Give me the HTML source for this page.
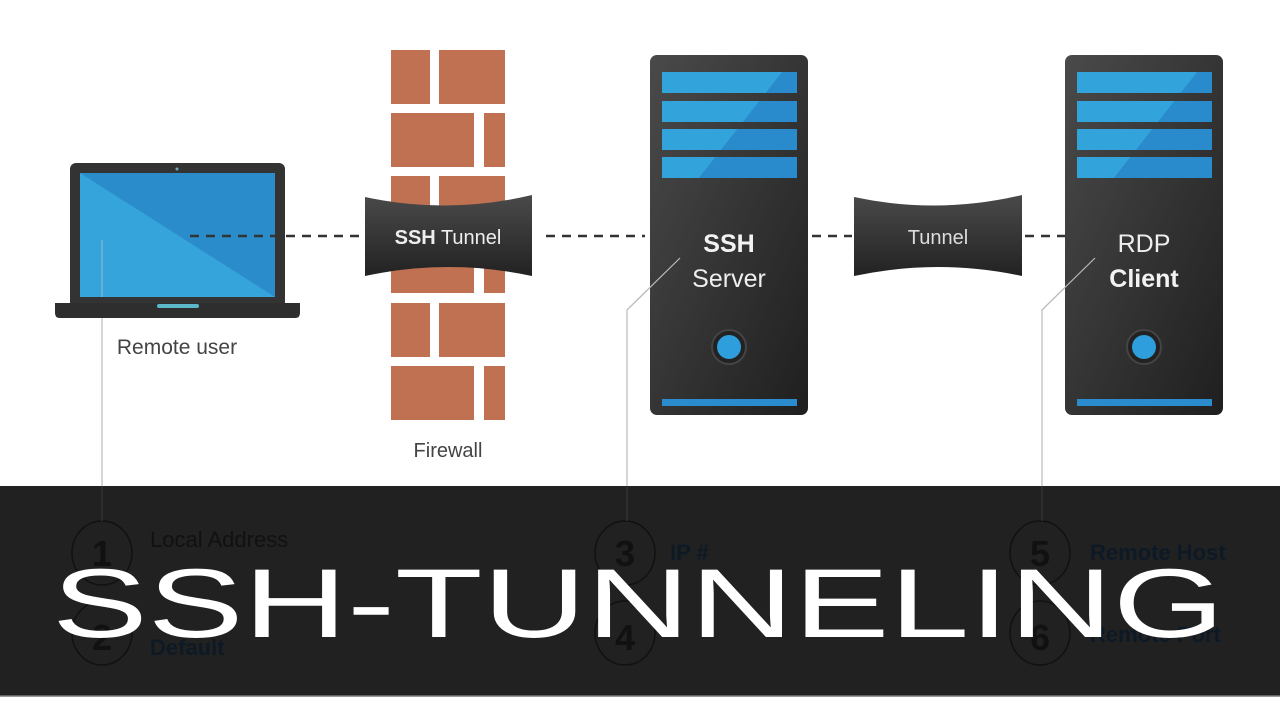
<!DOCTYPE html>
<html><head><meta charset="utf-8"><style>
html,body{margin:0;padding:0;background:#fff;width:1280px;height:720px;overflow:hidden}
svg{display:block}
</style></head><body>
<svg width="1280" height="720" viewBox="0 0 1280 720" xmlns="http://www.w3.org/2000/svg" font-family="Liberation Sans, sans-serif">
<defs>
<linearGradient id="dk" x1="0" y1="0" x2="1" y2="1"><stop offset="0" stop-color="#4a4a4a"/><stop offset="1" stop-color="#1f1f1f"/></linearGradient>
<linearGradient id="tn" x1="0" y1="0" x2="0" y2="1"><stop offset="0" stop-color="#4a4a4a"/><stop offset="1" stop-color="#222"/></linearGradient>
<linearGradient id="scr" x1="0" y1="1" x2="1" y2="0"><stop offset="0.5" stop-color="#35a4db"/><stop offset="0.5" stop-color="#2b8ccb"/></linearGradient>
<linearGradient id="str1" gradientUnits="userSpaceOnUse" x1="662" y1="72" x2="797" y2="178"><stop offset="0.55" stop-color="#33a3dc"/><stop offset="0.55" stop-color="#2a8bcc"/></linearGradient>
<linearGradient id="str2" gradientUnits="userSpaceOnUse" x1="1077" y1="72" x2="1212" y2="178"><stop offset="0.55" stop-color="#33a3dc"/><stop offset="0.55" stop-color="#2a8bcc"/></linearGradient>
</defs>
<g stroke="#bbb" stroke-width="1.2" fill="none">
<line x1="102" y1="240" x2="102" y2="490"/>
<polyline points="680,258 627,310 627,490"/>
<polyline points="1095,258 1042,310 1042,490"/>
</g>
<rect x="70" y="163" width="215" height="145" rx="6" fill="#333"/>
<rect x="80" y="173" width="195" height="124" fill="url(#scr)"/>
<circle cx="177" cy="169" r="1.5" fill="#6ab"/>
<path d="M55 303 H300 V313 Q300 318 295 318 H60 Q55 318 55 313Z" fill="#2e2e2e"/>
<rect x="157" y="304" width="42" height="4" rx="2" fill="#5cb8c8"/>
<line x1="102" y1="240" x2="102" y2="297" stroke="#9bc" stroke-width="1"/>
<text x="177" y="354" text-anchor="middle" font-size="21" fill="#444">Remote user</text>
<g stroke="#333" stroke-width="2.5" stroke-dasharray="9,7">
<line x1="190" y1="236" x2="360" y2="236"/>
<line x1="546" y1="236" x2="645" y2="236"/>
<line x1="812" y1="236" x2="852" y2="236"/>
<line x1="1025" y1="236" x2="1065" y2="236"/>
</g>
<g fill="#c07152">
<rect x="391" y="50" width="39" height="54"/><rect x="439" y="50" width="66" height="54"/>
<rect x="391" y="113" width="83" height="54"/><rect x="484" y="113" width="21" height="54"/>
<rect x="391" y="176" width="39" height="30"/><rect x="439" y="176" width="66" height="30"/>
<rect x="391" y="266" width="83" height="27"/><rect x="484" y="266" width="21" height="27"/>
<rect x="391" y="303" width="39" height="54"/><rect x="439" y="303" width="66" height="54"/>
<rect x="391" y="366" width="83" height="54"/><rect x="484" y="366" width="21" height="54"/>
</g>
<path d="M365 197 Q448 215 532 195 V276 Q448 258 365 276Z" fill="url(#tn)"/>
<text x="448" y="244" text-anchor="middle" font-size="20" fill="#eee"><tspan font-weight="bold">SSH</tspan> Tunnel</text>
<text x="448" y="457" text-anchor="middle" font-size="20" fill="#444">Firewall</text>
<rect x="650" y="55" width="158" height="360" rx="7" fill="url(#dk)"/>
<g fill="url(#str1)">
<rect x="662" y="72" width="135" height="21"/>
<rect x="662" y="101" width="135" height="21"/>
<rect x="662" y="129" width="135" height="21"/>
<rect x="662" y="157" width="135" height="21"/>
</g>
<text x="729" y="252" text-anchor="middle" font-size="25" font-weight="bold" fill="#f2f2f2">SSH</text>
<text x="729" y="287" text-anchor="middle" font-size="25" fill="#eee">Server</text>
<circle cx="729" cy="347" r="17" fill="#222" stroke="#444" stroke-width="2"/>
<circle cx="729" cy="347" r="12" fill="#2e9fdc"/>
<rect x="662" y="399" width="135" height="7" fill="#2a8ccc"/>
<line x1="680" y1="258" x2="627" y2="310" stroke="#bbb" stroke-width="1.2"/>
<path d="M854 197 Q938 215 1022 195 V276 Q938 258 854 276Z" fill="url(#tn)"/>
<text x="938" y="244" text-anchor="middle" font-size="20" fill="#ddd">Tunnel</text>
<rect x="1065" y="55" width="158" height="360" rx="7" fill="url(#dk)"/>
<g fill="url(#str2)">
<rect x="1077" y="72" width="135" height="21"/>
<rect x="1077" y="101" width="135" height="21"/>
<rect x="1077" y="129" width="135" height="21"/>
<rect x="1077" y="157" width="135" height="21"/>
</g>
<text x="1144" y="252" text-anchor="middle" font-size="25" fill="#eee">RDP</text>
<text x="1144" y="287" text-anchor="middle" font-size="25" font-weight="bold" fill="#f2f2f2">Client</text>
<circle cx="1144" cy="347" r="17" fill="#222" stroke="#444" stroke-width="2"/>
<circle cx="1144" cy="347" r="12" fill="#2e9fdc"/>
<rect x="1077" y="399" width="135" height="7" fill="#2a8ccc"/>
<line x1="1095" y1="258" x2="1042" y2="310" stroke="#bbb" stroke-width="1.2"/>
<rect x="0" y="486" width="1280" height="210" fill="#212121"/>
<line x1="0" y1="696" x2="1280" y2="696" stroke="#777" stroke-width="1.5"/>
<g fill="none" stroke="#111" stroke-width="1.5">
<ellipse cx="102" cy="553" rx="30" ry="32"/><ellipse cx="102" cy="633" rx="30" ry="32"/>
<ellipse cx="625" cy="553" rx="30" ry="32"/><ellipse cx="625" cy="633" rx="30" ry="32"/>
<ellipse cx="1040" cy="553" rx="30" ry="32"/><ellipse cx="1040" cy="633" rx="30" ry="32"/>
</g>
<line x1="102" y1="486" x2="102" y2="521" stroke="#3a3a3a"/>
<line x1="627" y1="486" x2="627" y2="521" stroke="#3a3a3a"/>
<line x1="1042" y1="486" x2="1042" y2="521" stroke="#3a3a3a"/>
<g font-size="22" fill="#111">
<text x="150" y="547">Local Address</text>
<text x="150" y="655" font-weight="bold" fill="#0d1a26">Default</text>
<text x="670" y="560" font-weight="bold" fill="#0d1a26">IP #</text>
<text x="1090" y="560" font-weight="bold" fill="#0d1a26">Remote Host</text>
<text x="1090" y="642" font-weight="bold" fill="#0d1a26">Remote Port</text>
</g>
<g font-size="36" font-weight="bold" fill="#111" text-anchor="middle">
<text x="102" y="566">1</text><text x="102" y="650">2</text>
<text x="625" y="566">3</text><text x="625" y="650">4</text>
<text x="1040" y="566">5</text><text x="1040" y="650">6</text>
</g>
<text x="0" y="0" font-size="98" fill="#fff" transform="translate(52 637) scale(1.465 1)">SSH-TUNNELING</text>
</svg>
</body></html>
